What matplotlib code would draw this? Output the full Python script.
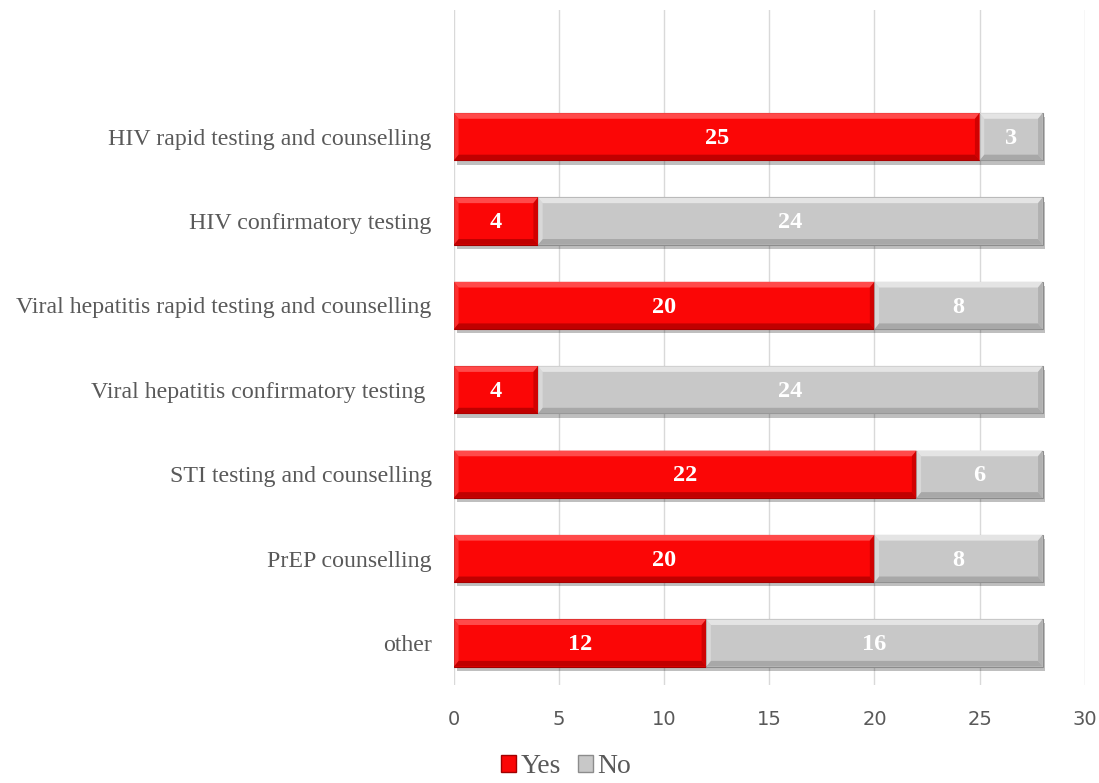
import numpy as np
import matplotlib.pyplot as plt
import matplotlib.patheffects as pe
from matplotlib.patches import Polygon, Patch

# services offered (bottom to top)
services = ["other", "PrEP counselling", "STI testing and counselling",
            "Viral hepatitis confirmatory testing ",
            "Viral hepatitis rapid testing and counselling",
            "HIV confirmatory testing", "HIV rapid testing and counselling"]
yes = [12, 20, 22, 4, 20, 4, 25]
no = [16, 8, 6, 24, 8, 24, 3]

red = "#fb0606"
grey = "#c8c8c8"
text_col = "#595959"

fig = plt.figure(figsize=(10.99, 7.83), dpi=100)
ax = fig.add_axes([0.413, 0.125, 0.574, 0.862])

y = np.arange(len(services))
h = 0.56
shadow = [pe.SimplePatchShadow(offset=(2, -3), shadow_rgbFace="#000000", alpha=0.25), pe.Normal()]

b1 = ax.barh(y, yes, height=h, color=red, edgecolor="#a00000", linewidth=0.8,
             zorder=3, path_effects=shadow)
b2 = ax.barh(y, no, left=yes, height=h, color=grey, edgecolor="#8c8c8c", linewidth=0.8,
             zorder=3, path_effects=shadow)

# bevel edges on each bar
def bevel(bars, light, dark):
    for r in bars:
        x0, y0 = r.get_x(), r.get_y()
        w, hh = r.get_width(), r.get_height()
        dx, dy = 0.22, hh * 0.12
        x1, y1 = x0 + w, y0 + hh
        ax.add_patch(Polygon([(x0, y1), (x1, y1), (x1 - dx, y1 - dy), (x0 + dx, y1 - dy)],
                             closed=True, color=light, lw=0, zorder=4))
        ax.add_patch(Polygon([(x0, y0), (x1, y0), (x1 - dx, y0 + dy), (x0 + dx, y0 + dy)],
                             closed=True, color=dark, lw=0, zorder=4))
        ax.add_patch(Polygon([(x0, y0), (x0 + dx, y0 + dy), (x0 + dx, y1 - dy), (x0, y1)],
                             closed=True, color=light, lw=0, alpha=0.6, zorder=4))
        ax.add_patch(Polygon([(x1, y0), (x1 - dx, y0 + dy), (x1 - dx, y1 - dy), (x1, y1)],
                             closed=True, color=dark, lw=0, alpha=0.7, zorder=4))

bevel(b1, "#ff4a4a", "#c00000")
bevel(b2, "#e4e4e4", "#a8a8a8")

for bars, vals in ((b1, yes), (b2, no)):
    for r, v in zip(bars, vals):
        ax.text(r.get_x() + r.get_width() / 2, r.get_y() + r.get_height() / 2 - 0.02, str(v),
                ha="center", va="center", color="white", fontsize=17.5, fontweight="bold",
                family="Liberation Serif", zorder=5)

ax.set_xlim(0, 30)
ax.set_ylim(-0.5, 7.5)
ax.set_xticks(range(0, 31, 5))
ax.set_yticks(y)
ax.set_yticklabels(services, family="Liberation Serif", fontsize=17.2, color=text_col)
ax.tick_params(axis="x", labelsize=14, colors=text_col, length=0, pad=18)
ax.tick_params(axis="y", length=0, pad=16)
ax.grid(axis="x", color="#d9d9d9", linewidth=1, zorder=0)
for s in ax.spines.values():
    s.set_visible(False)

handles = [Patch(facecolor=red, edgecolor="#a00000", label="Yes"),
           Patch(facecolor=grey, edgecolor="#8c8c8c", label="No")]
fig.legend(handles=handles, loc="lower center", bbox_to_anchor=(0.515, -0.027), ncol=2,
           frameon=False, prop={"family": "Liberation Serif", "size": 20},
           handlelength=0.55, handleheight=0.55, handletextpad=0.15, columnspacing=0.6,
           labelcolor=text_col)

fig.savefig("out.png", dpi=100)
